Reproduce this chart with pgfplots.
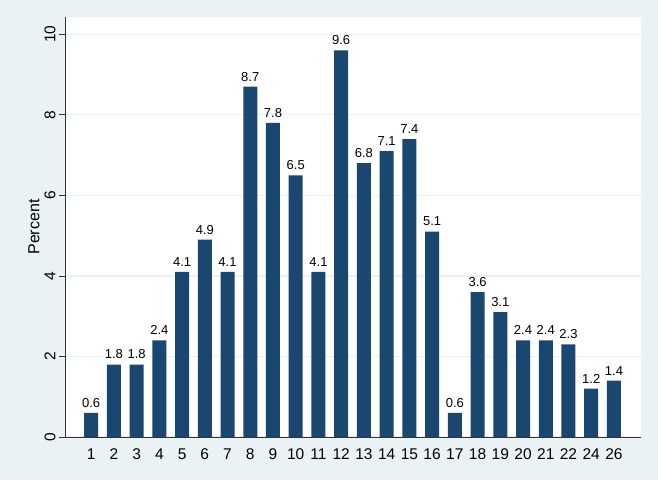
\documentclass[border=0pt]{standalone}
\usepackage{pgfplots}
\pgfplotsset{compat=1.18}
\usepackage{fontspec}
\setmainfont{Liberation Sans}
\definecolor{navy}{HTML}{1A476F}
\definecolor{bgc}{HTML}{EAF2F3}

\begin{document}
\begin{tikzpicture}[x=1pt,y=1pt]
\fill[bgc] (0,0) rectangle (658,480);
\useasboundingbox (0,0) rectangle (658,480);
\begin{axis}[
    at={(65pt,43pt)}, anchor=south west,
    scale only axis, width=576pt, height=420pt,
    axis background/.style={fill=white},
    xmin=-1.15, xmax=24.19, ymin=0, ymax=10.43,
    axis x line*=bottom, axis y line*=left,
    axis line style={black!80, line width=0.9pt},
    ybar, bar width=14pt,
    xtick=data,
    xticklabels={1,2,3,4,5,6,7,8,9,10,11,12,13,14,15,16,17,18,19,20,21,22,24,26},
    xtick style={draw=none},
    ytick={0,2,4,6,8,10},
    ytick style={black!80, line width=0.8pt},
    tick align=outside, major tick length=6pt,
    ymajorgrids, grid style={bgc, line width=1.2pt},
    yticklabel style={rotate=90, anchor=south, font=\fontsize{15.5}{18}\selectfont},
    xticklabel style={font=\fontsize{15.5}{18}\selectfont, yshift=-2pt},
    ylabel={Percent}, ylabel style={font=\fontsize{16}{19}\selectfont, yshift=-2pt},
    /pgf/number format/assume math mode=true,
    nodes near coords={\pgfmathprintnumber[fixed,precision=1,fixed zerofill]{\pgfplotspointmeta}},
    every node near coord/.append style={font=\fontsize{13}{15}\selectfont, black, yshift=2pt},
]
\addplot[fill=navy, draw=none] coordinates {
(0,0.6)(1,1.8)(2,1.8)(3,2.4)(4,4.1)(5,4.9)(6,4.1)(7,8.7)(8,7.8)(9,6.5)(10,4.1)(11,9.6)
(12,6.8)(13,7.1)(14,7.4)(15,5.1)(16,0.6)(17,3.6)(18,3.1)(19,2.4)(20,2.4)(21,2.3)(22,1.2)(23,1.4)};
\end{axis}
\end{tikzpicture}
\end{document}
